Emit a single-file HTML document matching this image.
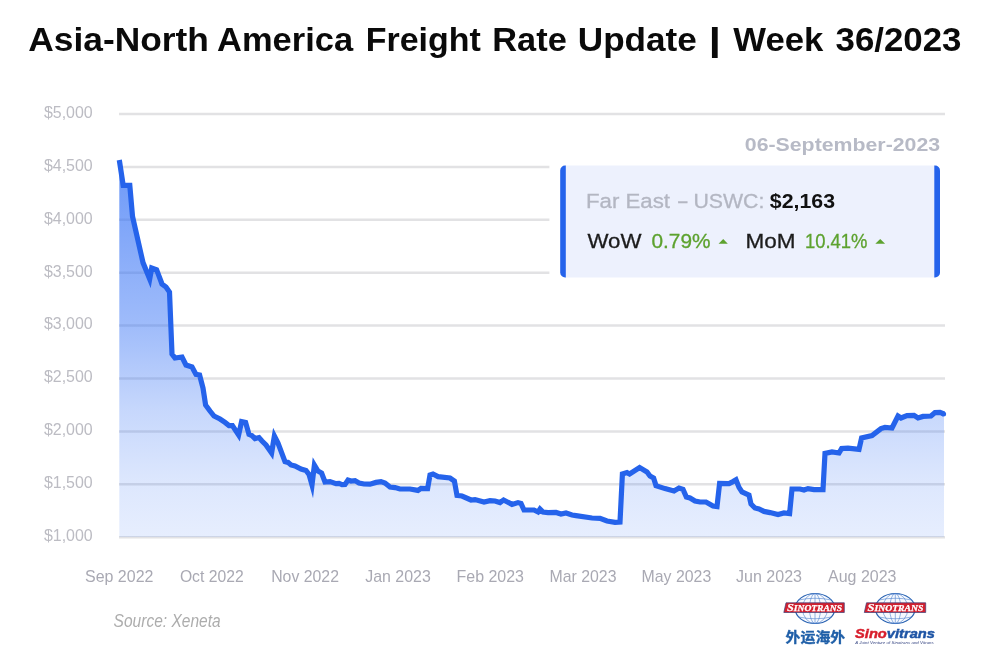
<!DOCTYPE html>
<html lang="en">
<head>
<meta charset="utf-8">
<title>Asia-North America Freight Rate Update | Week 36/2023</title>
<style>
html,body{margin:0;padding:0;background:#fff;}
body{width:1000px;height:650px;overflow:hidden;font-family:"Liberation Sans",sans-serif;}
svg{display:block;}
.title text{font-family:"Liberation Sans",sans-serif;font-weight:bold;font-size:33px;fill:#0a0a0a;}
.grid line{stroke:#e2e2e4;stroke-width:2.5;}
.ylab text{font-family:"Liberation Sans",sans-serif;font-size:16px;fill:#bcbcc3;}
.xlab text{font-family:"Liberation Sans",sans-serif;font-size:16.4px;fill:#a9a9b3;}
.src{font-family:"Liberation Sans",sans-serif;font-style:italic;font-size:17.6px;fill:#adadad;}
.date{font-family:"Liberation Sans",sans-serif;font-weight:bold;font-size:18.6px;fill:#b7bac6;}
.l1{font-family:"Liberation Sans",sans-serif;font-size:20.5px;fill:#b3b6c2;stroke:#b3b6c2;stroke-width:0.3;}
.l1b{font-family:"Liberation Sans",sans-serif;font-weight:bold;font-size:20.5px;fill:#111111;}
.l2{font-family:"Liberation Sans",sans-serif;font-size:20px;fill:#1c1c1c;stroke:#1c1c1c;stroke-width:0.3;}
.l2g{font-family:"Liberation Sans",sans-serif;font-size:20px;fill:#5da22f;stroke:#5da22f;stroke-width:0.3;}
.sino{font-family:"Liberation Serif",serif;font-weight:bold;font-style:italic;font-size:8.2px;fill:#ffffff;stroke:#ffffff;stroke-width:0.25;}
.cjk{font-family:"Liberation Sans","Noto Sans CJK SC",sans-serif;font-weight:bold;font-size:14.2px;fill:#1f5fa8;stroke:#1f5fa8;stroke-width:0.35;}
.svt{font-family:"Liberation Sans",sans-serif;font-weight:bold;font-style:italic;font-size:13px;stroke-width:0.45;}
.tag{font-family:"Liberation Sans",sans-serif;font-style:italic;font-size:4.2px;fill:#3b4a86;}
</style>
</head>
<body>
<svg width="1000" height="650" viewBox="0 0 1000 650">
<defs>
<linearGradient id="ag" x1="0" y1="160" x2="0" y2="537" gradientUnits="userSpaceOnUse">
<stop offset="0" stop-color="#3370f5" stop-opacity="0.72"/>
<stop offset="0.44" stop-color="#3370f5" stop-opacity="0.47"/>
<stop offset="0.66" stop-color="#3370f5" stop-opacity="0.28"/>
<stop offset="0.85" stop-color="#3370f5" stop-opacity="0.17"/>
<stop offset="1" stop-color="#3370f5" stop-opacity="0.12"/>
</linearGradient>
<clipPath id="bx"><rect x="560.2" y="165.6" width="379.8" height="111.8" rx="5" ry="5"/></clipPath>
</defs>
<rect width="1000" height="650" fill="#ffffff"/>
<g class="title">
<text x="28.3" y="50.7" textLength="180.5" lengthAdjust="spacingAndGlyphs">Asia-North</text>
<text x="217.1" y="50.7" textLength="136" lengthAdjust="spacingAndGlyphs">America</text>
<text x="365.8" y="50.7" textLength="115" lengthAdjust="spacingAndGlyphs">Freight</text>
<text x="492.3" y="50.7" textLength="74.5" lengthAdjust="spacingAndGlyphs">Rate</text>
<text x="577.8" y="50.7" textLength="119" lengthAdjust="spacingAndGlyphs">Update</text>
<text x="708.6" y="50.7" textLength="12.6" lengthAdjust="spacingAndGlyphs">|</text>
<text x="733.3" y="50.7" textLength="90" lengthAdjust="spacingAndGlyphs">Week</text>
<text x="835.5" y="50.7" textLength="126" lengthAdjust="spacingAndGlyphs">36/2023</text>
</g>
<g class="grid">
<line x1="119" x2="945" y1="114.0" y2="114.0"/>
<line x1="119" x2="945" y1="166.9" y2="166.9"/>
<line x1="119" x2="945" y1="219.8" y2="219.8"/>
<line x1="119" x2="945" y1="272.7" y2="272.7"/>
<line x1="119" x2="945" y1="325.6" y2="325.6"/>
<line x1="119" x2="945" y1="378.5" y2="378.5"/>
<line x1="119" x2="945" y1="431.4" y2="431.4"/>
<line x1="119" x2="945" y1="484.3" y2="484.3"/>
<line x1="119" x2="945" y1="537.2" y2="537.2"/>
</g>
<rect x="549.4" y="124" width="401" height="165" fill="#ffffff"/>
<path d="M119.3,160.0 L123.2,185.4 L129.8,185.4 L132.5,216.3 L143.0,262.6 L149.7,279.0 L151.7,268.0 L156.6,269.7 L162.0,284.0 L166.0,287.0 L169.5,292.0 L172.0,354.0 L175.0,358.0 L182.0,357.0 L186.0,365.0 L192.0,367.0 L196.0,374.4 L199.6,375.0 L203.0,388.0 L205.6,405.0 L210.0,411.0 L214.0,416.0 L220.0,419.0 L225.0,422.4 L229.0,425.6 L232.4,425.6 L238.6,435.0 L241.6,421.6 L245.6,422.4 L249.0,434.4 L252.0,435.6 L255.0,438.6 L259.0,437.6 L262.0,441.0 L266.0,445.0 L271.6,453.0 L274.4,436.0 L278.0,443.0 L285.0,461.6 L288.0,462.4 L291.0,465.0 L295.0,466.0 L301.0,469.0 L306.0,470.4 L309.0,474.4 L312.0,485.0 L314.4,465.0 L318.0,471.0 L321.6,473.0 L325.0,482.0 L330.0,481.6 L336.0,483.6 L339.0,483.4 L342.0,484.6 L345.0,484.4 L348.0,480.0 L351.0,481.0 L355.0,480.6 L359.0,483.0 L364.0,484.0 L370.0,484.2 L376.0,482.4 L381.0,481.6 L385.0,483.0 L390.0,487.0 L395.0,487.6 L400.0,489.0 L410.0,489.0 L418.0,490.4 L421.0,488.4 L427.6,488.6 L430.0,475.0 L433.0,474.0 L438.0,476.6 L450.0,478.0 L454.4,481.0 L457.0,495.4 L462.0,496.0 L471.0,500.0 L475.0,499.6 L484.0,502.0 L490.0,500.6 L495.0,501.0 L500.0,502.6 L503.6,500.0 L512.0,504.4 L518.0,502.6 L521.0,503.4 L524.0,510.0 L534.0,510.0 L538.0,512.0 L540.0,509.0 L543.0,512.0 L548.0,512.6 L556.0,512.4 L561.0,514.0 L566.0,513.0 L572.0,515.0 L576.0,515.6 L592.0,518.0 L600.0,518.4 L607.0,521.0 L615.0,522.4 L620.0,522.0 L622.4,474.0 L627.0,472.6 L629.6,474.0 L639.6,467.6 L647.0,472.0 L650.0,476.0 L653.6,478.0 L656.0,485.6 L665.0,488.6 L674.0,491.0 L679.0,488.0 L683.0,489.4 L686.4,497.0 L690.0,498.0 L695.0,501.0 L700.0,502.0 L706.0,502.0 L713.0,506.0 L717.0,506.6 L719.6,483.4 L729.0,483.6 L733.0,481.6 L736.0,479.8 L739.0,487.4 L742.0,492.0 L749.0,495.0 L751.0,504.0 L755.0,508.0 L759.0,509.0 L764.0,511.4 L770.0,512.6 L778.0,514.6 L784.0,513.0 L789.6,513.6 L792.0,489.0 L800.0,489.0 L804.0,490.0 L808.0,488.6 L814.0,489.6 L823.0,489.6 L825.0,453.4 L832.0,452.0 L839.0,453.0 L841.6,448.6 L848.0,448.2 L859.0,449.4 L861.6,438.0 L872.0,435.6 L881.0,428.6 L885.0,427.4 L892.0,428.0 L898.0,416.0 L901.0,418.0 L907.0,415.6 L914.0,415.4 L918.0,418.0 L923.0,416.4 L931.0,416.0 L935.0,412.6 L940.0,412.4 L944.0,414.0 L944,537.1 L119.3,537.1 Z" fill="url(#ag)"/>
<path d="M119.3,160.0 L123.2,185.4 L129.8,185.4 L132.5,216.3 L143.0,262.6 L149.7,279.0 L151.7,268.0 L156.6,269.7 L162.0,284.0 L166.0,287.0 L169.5,292.0 L172.0,354.0 L175.0,358.0 L182.0,357.0 L186.0,365.0 L192.0,367.0 L196.0,374.4 L199.6,375.0 L203.0,388.0 L205.6,405.0 L210.0,411.0 L214.0,416.0 L220.0,419.0 L225.0,422.4 L229.0,425.6 L232.4,425.6 L238.6,435.0 L241.6,421.6 L245.6,422.4 L249.0,434.4 L252.0,435.6 L255.0,438.6 L259.0,437.6 L262.0,441.0 L266.0,445.0 L271.6,453.0 L274.4,436.0 L278.0,443.0 L285.0,461.6 L288.0,462.4 L291.0,465.0 L295.0,466.0 L301.0,469.0 L306.0,470.4 L309.0,474.4 L312.0,485.0 L314.4,465.0 L318.0,471.0 L321.6,473.0 L325.0,482.0 L330.0,481.6 L336.0,483.6 L339.0,483.4 L342.0,484.6 L345.0,484.4 L348.0,480.0 L351.0,481.0 L355.0,480.6 L359.0,483.0 L364.0,484.0 L370.0,484.2 L376.0,482.4 L381.0,481.6 L385.0,483.0 L390.0,487.0 L395.0,487.6 L400.0,489.0 L410.0,489.0 L418.0,490.4 L421.0,488.4 L427.6,488.6 L430.0,475.0 L433.0,474.0 L438.0,476.6 L450.0,478.0 L454.4,481.0 L457.0,495.4 L462.0,496.0 L471.0,500.0 L475.0,499.6 L484.0,502.0 L490.0,500.6 L495.0,501.0 L500.0,502.6 L503.6,500.0 L512.0,504.4 L518.0,502.6 L521.0,503.4 L524.0,510.0 L534.0,510.0 L538.0,512.0 L540.0,509.0 L543.0,512.0 L548.0,512.6 L556.0,512.4 L561.0,514.0 L566.0,513.0 L572.0,515.0 L576.0,515.6 L592.0,518.0 L600.0,518.4 L607.0,521.0 L615.0,522.4 L620.0,522.0 L622.4,474.0 L627.0,472.6 L629.6,474.0 L639.6,467.6 L647.0,472.0 L650.0,476.0 L653.6,478.0 L656.0,485.6 L665.0,488.6 L674.0,491.0 L679.0,488.0 L683.0,489.4 L686.4,497.0 L690.0,498.0 L695.0,501.0 L700.0,502.0 L706.0,502.0 L713.0,506.0 L717.0,506.6 L719.6,483.4 L729.0,483.6 L733.0,481.6 L736.0,479.8 L739.0,487.4 L742.0,492.0 L749.0,495.0 L751.0,504.0 L755.0,508.0 L759.0,509.0 L764.0,511.4 L770.0,512.6 L778.0,514.6 L784.0,513.0 L789.6,513.6 L792.0,489.0 L800.0,489.0 L804.0,490.0 L808.0,488.6 L814.0,489.6 L823.0,489.6 L825.0,453.4 L832.0,452.0 L839.0,453.0 L841.6,448.6 L848.0,448.2 L859.0,449.4 L861.6,438.0 L872.0,435.6 L881.0,428.6 L885.0,427.4 L892.0,428.0 L898.0,416.0 L901.0,418.0 L907.0,415.6 L914.0,415.4 L918.0,418.0 L923.0,416.4 L931.0,416.0 L935.0,412.6 L940.0,412.4 L944.0,414.0" fill="none" stroke="#2563eb" stroke-width="5.2" stroke-linejoin="miter" stroke-miterlimit="6" stroke-linecap="butt"/>
<circle cx="943.6" cy="413.9" r="2.5" fill="#2563eb"/>
<g class="ylab">
<text x="43.9" y="117.8" textLength="48.8" lengthAdjust="spacingAndGlyphs">$5,000</text>
<text x="43.9" y="170.7" textLength="48.8" lengthAdjust="spacingAndGlyphs">$4,500</text>
<text x="43.9" y="223.6" textLength="48.8" lengthAdjust="spacingAndGlyphs">$4,000</text>
<text x="43.9" y="276.5" textLength="48.8" lengthAdjust="spacingAndGlyphs">$3,500</text>
<text x="43.9" y="329.4" textLength="48.8" lengthAdjust="spacingAndGlyphs">$3,000</text>
<text x="43.9" y="382.3" textLength="48.8" lengthAdjust="spacingAndGlyphs">$2,500</text>
<text x="43.9" y="435.2" textLength="48.8" lengthAdjust="spacingAndGlyphs">$2,000</text>
<text x="43.9" y="488.1" textLength="48.8" lengthAdjust="spacingAndGlyphs">$1,500</text>
<text x="43.9" y="541.0" textLength="48.8" lengthAdjust="spacingAndGlyphs">$1,000</text>
</g>
<g class="xlab">
<text x="85" y="581.5" textLength="68.4" lengthAdjust="spacingAndGlyphs">Sep 2022</text>
<text x="179.9" y="581.5" textLength="63.8" lengthAdjust="spacingAndGlyphs">Oct 2022</text>
<text x="271.2" y="581.5" textLength="67.8" lengthAdjust="spacingAndGlyphs">Nov 2022</text>
<text x="365.2" y="581.5" textLength="65.6" lengthAdjust="spacingAndGlyphs">Jan 2023</text>
<text x="456.5" y="581.5" textLength="67.5" lengthAdjust="spacingAndGlyphs">Feb 2023</text>
<text x="549.5" y="581.5" textLength="67" lengthAdjust="spacingAndGlyphs">Mar 2023</text>
<text x="641.6" y="581.5" textLength="69.6" lengthAdjust="spacingAndGlyphs">May 2023</text>
<text x="736" y="581.5" textLength="66" lengthAdjust="spacingAndGlyphs">Jun 2023</text>
<text x="828" y="581.5" textLength="68.5" lengthAdjust="spacingAndGlyphs">Aug 2023</text>
</g>
<g class="legend">
<text class="date" x="744.8" y="151" textLength="195.3" lengthAdjust="spacingAndGlyphs">06-September-2023</text>
<g clip-path="url(#bx)">
<rect x="560" y="165" width="381" height="113" fill="#edf1fd"/>
<rect x="560" y="165" width="5.8" height="113" fill="#2563eb"/>
<rect x="934.3" y="165" width="6" height="113" fill="#2563eb"/>
</g>
<text class="l1" x="586" y="208" textLength="84" lengthAdjust="spacingAndGlyphs">Far East</text>
<text class="l1" x="676.7" y="208" textLength="12" lengthAdjust="spacingAndGlyphs">-</text>
<text class="l1" x="693.4" y="208" textLength="71" lengthAdjust="spacingAndGlyphs">USWC:</text>
<text class="l1b" x="769.8" y="207.8" textLength="65.2" lengthAdjust="spacingAndGlyphs">$2,163</text>
<text class="l2" x="587.4" y="247.6" textLength="54" lengthAdjust="spacingAndGlyphs">WoW</text>
<text class="l2g" x="651.5" y="247.6" textLength="59" lengthAdjust="spacingAndGlyphs">0.79%</text>
<path d="M718.6,243.8 L723.2,239 L727.8,243.8 Z" fill="#5da22f"/>
<text class="l2" x="745.6" y="247.6" textLength="50" lengthAdjust="spacingAndGlyphs">MoM</text>
<text class="l2g" x="805" y="247.6" textLength="62.5" lengthAdjust="spacingAndGlyphs">10.41%</text>
<path d="M875.3,243.8 L880.2,239 L885.1,243.8 Z" fill="#5da22f"/>
</g>
<text class="src" x="113.6" y="626.6" textLength="107" lengthAdjust="spacingAndGlyphs">Source: Xeneta</text>
<g class="globe" fill="none" stroke="#4f82cc" stroke-width="0.6">
<ellipse cx="815" cy="608.5" rx="19.8" ry="15" stroke="#2b64b3" stroke-width="1.2" fill="#f6f9fe"/>
<ellipse cx="815" cy="608.5" rx="12.5" ry="15"/>
<ellipse cx="815" cy="608.5" rx="5.5" ry="15"/>
<line x1="815" y1="593.5" x2="815" y2="623.5"/>
<path d="M798.5,600 Q815,596.5 831.5,600"/>
<path d="M798.5,617 Q815,620.5 831.5,617"/>
<line x1="795.2" y1="608.5" x2="834.8" y2="608.5"/>
</g>
<path d="M786.0,602.8 L844.3,602.8 L844.3,612.5 L783.8,612.5 Z" fill="#d3202f" stroke="#3a3f7a" stroke-width="0.7" stroke-linejoin="round"/>
<text class="sino" x="787.0" y="611" textLength="55.0" lengthAdjust="spacingAndGlyphs"><tspan font-size="10.5">S</tspan>INOTRANS</text>
<g class="globe" fill="none" stroke="#4f82cc" stroke-width="0.6">
<ellipse cx="895.3" cy="608.5" rx="19.8" ry="15" stroke="#2b64b3" stroke-width="1.2" fill="#f6f9fe"/>
<ellipse cx="895.3" cy="608.5" rx="12.5" ry="15"/>
<ellipse cx="895.3" cy="608.5" rx="5.5" ry="15"/>
<line x1="895.3" y1="593.5" x2="895.3" y2="623.5"/>
<path d="M878.8,600 Q895.3,596.5 911.8,600"/>
<path d="M878.8,617 Q895.3,620.5 911.8,617"/>
<line x1="875.5" y1="608.5" x2="915.0999999999999" y2="608.5"/>
</g>
<path d="M866.5,602.8 L925.7,602.8 L925.7,612.5 L864.3,612.5 Z" fill="#d3202f" stroke="#3a3f7a" stroke-width="0.7" stroke-linejoin="round"/>
<text class="sino" x="867.5" y="611" textLength="55.90000000000009" lengthAdjust="spacingAndGlyphs"><tspan font-size="10.5">S</tspan>INOTRANS</text>
<text class="cjk" x="785.6" y="642.4" textLength="59.6" lengthAdjust="spacingAndGlyphs">外运海外</text>
<text class="svt" x="855" y="638" textLength="80" lengthAdjust="spacingAndGlyphs"><tspan fill="#d81e2c" stroke="#d81e2c">Sino</tspan><tspan fill="#1f55a5" stroke="#1f55a5">vitrans</tspan></text>
<text class="tag" x="855.3" y="644.3" textLength="78.5" lengthAdjust="spacingAndGlyphs">A Joint Venture of Sinotrans and Vitrans</text>
</svg>
</body>
</html>
